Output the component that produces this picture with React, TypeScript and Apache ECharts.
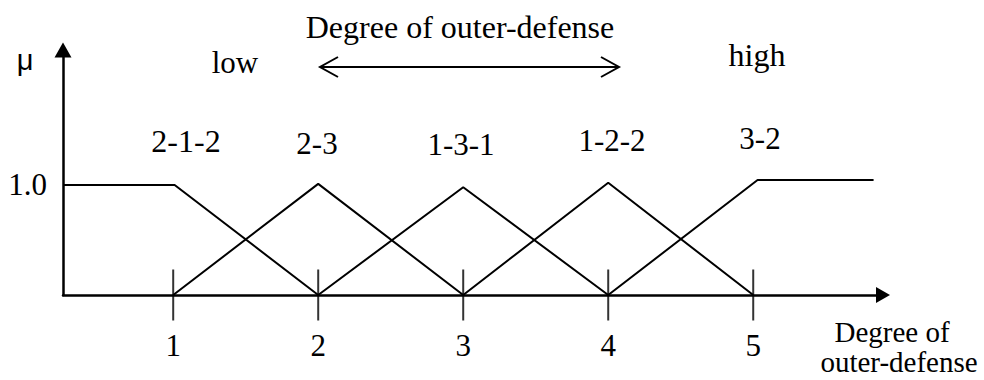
import React, { useEffect, useRef } from "react";
import * as echarts from "echarts";

// ---- data ----
const tickValues = [1, 2, 3, 4, 5];
const tickLabels = ["1", "2", "3", "4", "5"];
const muLabelValues = [1];

const set212: [number, number][] = [[0.24, 1.0], [1.01, 1.0], [2, 0]];
const set23: [number, number][] = [[1, 0], [2, 1.01], [3, 0]];
const set131: [number, number][] = [[2, 0], [3, 0.98], [4, 0]];
const set122: [number, number][] = [[3, 0], [4, 1.02], [5, 0]];
const set32: [number, number][] = [[4, 0], [5.03, 1.045], [5.83, 1.045]];

const setNames = ["2-1-2", "2-3", "1-3-1", "1-2-2", "3-2"];
const setData = [set212, set23, set131, set122, set32];

const SERIF = "'Liberation Serif', 'Times New Roman', serif";
const SANS = "'Liberation Sans', Arial, sans-serif";

export default function App() {
  const ref = useRef<HTMLDivElement>(null);
  useEffect(() => {
    if (!ref.current) return;
    const chart = echarts.init(ref.current, null, { renderer: "svg" });
    const txt = (text: string, x: number, y: number, size = 31, font = SERIF) => ({
      type: "text",
      x,
      y,
      style: {
        text,
        fill: "#000",
        font: `${size}px ${font}`,
        textAlign: "center",
        textVerticalAlign: "middle",
      },
    });
    chart.setOption({
      animation: false,
      backgroundColor: "#fff",
      grid: { left: 63, right: 101, top: 50, bottom: 85, containLabel: false },
      xAxis: {
        type: "value",
        min: 0.24,
        max: 5.895,
        splitLine: { show: false },
        axisLine: {
          show: true,
          onZero: false,
          symbol: ["none", "triangle"],
          symbolSize: [16, 14],
          lineStyle: { color: "#000", width: 2.5 },
        },
        axisTick: { show: false },
        axisLabel: {
          customValues: tickValues,
          formatter: (v: number) => tickLabels[tickValues.indexOf(v)] ?? "",
          margin: 35,
          color: "#000",
          fontSize: 31,
          fontFamily: SERIF,
        },
      },
      yAxis: {
        type: "value",
        min: 0,
        max: 2.227,
        splitLine: { show: false },
        axisLine: {
          show: true,
          onZero: false,
          symbol: ["none", "triangle"],
          symbolSize: [17, 15],
          lineStyle: { color: "#000", width: 2.5 },
        },
        axisTick: { show: false },
        axisLabel: {
          customValues: muLabelValues,
          formatter: (v: number) => v.toFixed(1),
          margin: 16,
          color: "#000",
          fontSize: 31,
          fontFamily: SERIF,
        },
      },
      series: [
        ...setData.map((d, i) => ({
          type: "line",
          name: setNames[i],
          data: d,
          symbol: "none",
          lineStyle: { color: "#000", width: 2 },
          silent: true,
        })),
        {
          type: "scatter",
          name: "ticks",
          data: tickValues.map((t) => [t, 0]),
          symbol: "rect",
          symbolSize: [2, 51],
          itemStyle: { color: "#000" },
          silent: true,
        },
      ],
      graphic: [
        txt("Degree of outer-defense", 460, 27, 32),
        txt("low", 235, 62.5),
        txt("high", 757, 54.5, 32),
        txt("μ", 25, 60, 29, SANS),
        txt(setNames[0], 186, 140.5, 32),
        txt(setNames[1], 317, 143.5),
        txt(setNames[2], 461, 144.5),
        txt(setNames[3], 612, 140.5),
        txt(setNames[4], 760, 138.5),
        txt("Degree of", 892, 332, 29),
        txt("outer-defense", 899, 362, 29),
        {
          type: "line",
          shape: { x1: 320, y1: 67, x2: 619, y2: 67 },
          style: { stroke: "#000", lineWidth: 2 },
        },
        {
          type: "polyline",
          shape: { points: [[338, 57], [320, 67], [338, 77]] },
          style: { stroke: "#000", lineWidth: 2, fill: null },
        },
        {
          type: "polyline",
          shape: { points: [[601, 57], [619, 67], [601, 77]] },
          style: { stroke: "#000", lineWidth: 2, fill: null },
        },
      ],
    });
    return () => chart.dispose();
  }, []);
  return (
    <div
      ref={ref}
      style={{ position: "absolute", left: 0, top: 0, width: 984, height: 380 }}
    />
  );
}
